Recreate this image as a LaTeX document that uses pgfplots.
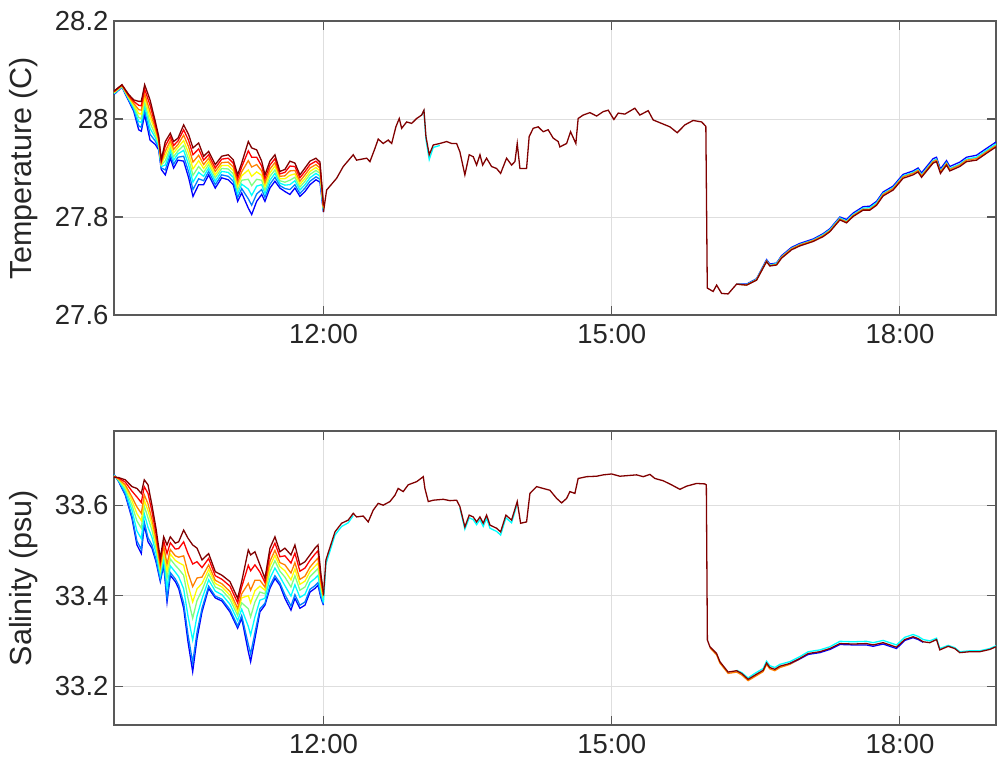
\documentclass[border=0pt]{standalone}
\usepackage{fontspec}
\setmainfont{Liberation Sans}
\usepackage{pgfplots}
\pgfplotsset{compat=1.18}
\usepackage{pgfplotstable}

% jet(8) colours
\definecolor{j1}{rgb}{0,0,1}
\definecolor{j2}{rgb}{0,0.5,1}
\definecolor{j3}{rgb}{0,1,1}
\definecolor{j4}{rgb}{0.5,1,0.5}
\definecolor{j5}{rgb}{1,1,0}
\definecolor{j6}{rgb}{1,0.5,0}
\definecolor{j7}{rgb}{1,0,0}
\definecolor{j8}{rgb}{0.5,0,0}
\definecolor{txt}{rgb}{0.15,0.15,0.15}

% temperature, 8 sensors, before 12:00
\pgfplotstableread{
t a b c d e f g h
9.820 28.050 28.051 28.052 28.053 28.054 28.055 28.056 28.057
9.903 28.065 28.066 28.066 28.067 28.068 28.069 28.069 28.070
9.973 28.037 28.039 28.041 28.043 28.044 28.046 28.048 28.050
10.025 28.016 28.019 28.023 28.026 28.029 28.032 28.036 28.039
10.077 27.978 27.986 27.995 28.003 28.011 28.019 28.028 28.036
10.104 27.975 27.983 27.993 28.001 28.010 28.018 28.027 28.036
10.139 28.009 28.018 28.027 28.035 28.044 28.052 28.061 28.070
10.195 27.957 27.969 27.981 27.992 28.004 28.015 28.028 28.039
10.250 27.948 27.955 27.962 27.968 27.975 27.981 27.988 27.995
10.285 27.937 27.941 27.945 27.949 27.953 27.957 27.961 27.965
10.312 27.897 27.900 27.903 27.906 27.908 27.911 27.914 27.917
10.354 27.886 27.896 27.906 27.915 27.925 27.934 27.945 27.954
10.406 27.920 27.927 27.935 27.942 27.949 27.956 27.964 27.971
10.441 27.900 27.908 27.916 27.923 27.931 27.938 27.946 27.954
10.486 27.916 27.922 27.929 27.935 27.942 27.948 27.955 27.961
10.545 27.914 27.924 27.936 27.946 27.956 27.967 27.978 27.988
10.597 27.880 27.892 27.906 27.918 27.930 27.943 27.956 27.968
10.642 27.842 27.856 27.871 27.885 27.898 27.912 27.927 27.941
10.701 27.866 27.878 27.891 27.903 27.915 27.926 27.939 27.951
10.753 27.866 27.874 27.883 27.891 27.899 27.907 27.916 27.924
10.805 27.886 27.893 27.900 27.907 27.913 27.920 27.927 27.934
10.874 27.859 27.866 27.873 27.880 27.886 27.893 27.900 27.907
10.941 27.880 27.886 27.893 27.899 27.905 27.911 27.918 27.924
11.009 27.876 27.883 27.891 27.898 27.905 27.912 27.920 27.927
11.061 27.866 27.873 27.881 27.888 27.895 27.902 27.910 27.917
11.107 27.832 27.840 27.848 27.855 27.863 27.870 27.878 27.886
11.149 27.849 27.858 27.867 27.875 27.884 27.892 27.902 27.910
11.218 27.818 27.837 27.857 27.877 27.896 27.915 27.935 27.954
11.253 27.805 27.824 27.844 27.864 27.883 27.902 27.922 27.941
11.305 27.832 27.847 27.863 27.877 27.892 27.907 27.922 27.937
11.357 27.846 27.856 27.866 27.875 27.885 27.894 27.904 27.914
11.391 27.832 27.840 27.848 27.855 27.863 27.870 27.878 27.886
11.443 27.859 27.867 27.875 27.883 27.890 27.898 27.906 27.914
11.495 27.873 27.881 27.889 27.896 27.904 27.911 27.919 27.927
11.547 27.859 27.864 27.869 27.874 27.878 27.883 27.888 27.893
11.599 27.852 27.858 27.865 27.871 27.878 27.884 27.891 27.897
11.651 27.846 27.856 27.866 27.875 27.885 27.894 27.904 27.914
11.703 27.859 27.866 27.874 27.881 27.888 27.895 27.903 27.910
11.755 27.842 27.848 27.855 27.861 27.867 27.873 27.880 27.886
11.808 27.852 27.859 27.866 27.873 27.879 27.886 27.893 27.900
11.860 27.866 27.873 27.880 27.887 27.893 27.900 27.907 27.914
11.922 27.876 27.882 27.889 27.895 27.901 27.907 27.914 27.920
11.964 27.871 27.877 27.883 27.889 27.894 27.900 27.906 27.912
12.000 27.810 27.812 27.814 27.816 27.818 27.820 27.822 27.824
}\tempearly

% temperature after 12:00 (all sensors nearly equal)
\pgfplotstableread{
t v
12.000 27.810
12.033 27.855
12.137 27.879
12.206 27.903
12.310 27.927
12.345 27.916
12.450 27.920
12.484 27.913
12.536 27.940
12.570 27.959
12.622 27.950
12.674 27.957
12.710 27.950
12.754 27.984
12.789 28.001
12.814 27.981
12.866 27.994
12.918 27.991
12.970 28.001
13.022 28.008
13.046 28.018
13.067 27.964
13.101 27.927
13.143 27.947
13.212 27.950
13.282 27.954
13.334 27.950
13.386 27.950
13.420 27.933
13.472 27.886
13.517 27.927
13.559 27.923
13.594 27.906
13.629 27.927
13.657 27.906
13.698 27.920
13.750 27.903
13.802 27.899
13.844 27.889
13.906 27.920
13.958 27.906
13.993 27.913
14.017 27.950
14.045 27.899
14.114 27.899
14.141 27.964
14.183 27.981
14.235 27.984
14.287 27.974
14.339 27.978
14.391 27.961
14.443 27.954
14.461 27.943
14.531 27.950
14.572 27.974
14.627 27.950
14.651 28.001
14.703 28.008
14.773 28.013
14.843 28.006
14.912 28.015
14.964 28.018
15.023 27.999
15.068 28.012
15.137 28.010
15.241 28.022
15.293 28.008
15.380 28.017
15.432 27.998
15.519 27.991
15.606 27.984
15.682 27.972
15.762 27.988
15.848 27.997
15.936 27.994
15.980 27.985
15.995 27.655
16.056 27.648
16.092 27.661
16.144 27.644
16.212 27.643
16.300 27.663
16.404 27.661
16.508 27.671
16.612 27.709
16.646 27.700
16.716 27.702
16.768 27.716
16.872 27.733
16.958 27.741
17.097 27.750
17.201 27.760
17.271 27.770
17.375 27.794
17.444 27.788
17.513 27.801
17.617 27.814
17.687 27.814
17.757 27.824
17.825 27.843
17.929 27.855
18.033 27.879
18.137 27.886
18.189 27.892
18.225 27.881
18.345 27.910
18.381 27.913
18.422 27.889
18.485 27.906
18.519 27.894
18.623 27.903
18.693 27.913
18.797 27.916
18.901 27.930
19.000 27.943
}\template

% late-afternoon spread of the other sensors: blue, cyan, orange
\pgfplotstableread{
t b c o
16.300 27.663 27.663 27.663
16.404 27.663 27.662 27.661
16.508 27.674 27.673 27.672
16.612 27.713 27.711 27.710
16.646 27.704 27.702 27.701
16.716 27.706 27.705 27.703
16.768 27.721 27.719 27.718
16.872 27.738 27.736 27.735
16.958 27.746 27.744 27.743
17.097 27.755 27.753 27.752
17.201 27.766 27.764 27.762
17.271 27.776 27.774 27.772
17.375 27.800 27.798 27.796
17.444 27.795 27.792 27.790
17.513 27.808 27.805 27.803
17.617 27.821 27.818 27.816
17.687 27.822 27.819 27.816
17.757 27.832 27.829 27.826
17.825 27.851 27.848 27.846
17.929 27.863 27.860 27.858
18.033 27.887 27.884 27.882
18.137 27.894 27.891 27.889
18.189 27.900 27.897 27.895
18.225 27.890 27.886 27.884
18.345 27.919 27.915 27.913
18.381 27.922 27.918 27.916
18.422 27.898 27.894 27.892
18.485 27.915 27.911 27.909
18.519 27.903 27.899 27.897
18.623 27.912 27.908 27.906
18.693 27.922 27.918 27.916
18.797 27.926 27.922 27.919
18.901 27.940 27.936 27.933
19.000 27.953 27.949 27.946
}\tempspread

\pgfplotstableread{
t c
13.022 28.008
13.046 28.016
13.067 27.958
13.101 27.917
13.143 27.942
13.212 27.946
}\tempcyan

% salinity, 8 sensors, before 12:00
\pgfplotstableread{
t a b c d e f g h
9.820 33.668 33.668 33.666 33.665 33.665 33.664 33.663 33.662
9.869 33.652 33.653 33.654 33.656 33.657 33.658 33.660 33.661
9.938 33.622 33.624 33.631 33.636 33.641 33.645 33.651 33.656
10.007 33.571 33.576 33.589 33.600 33.610 33.618 33.631 33.641
10.059 33.512 33.521 33.543 33.565 33.581 33.596 33.618 33.637
10.104 33.493 33.502 33.526 33.549 33.566 33.582 33.606 33.626
10.135 33.556 33.563 33.581 33.598 33.611 33.623 33.641 33.656
10.174 33.519 33.528 33.551 33.572 33.588 33.603 33.626 33.645
10.215 33.505 33.512 33.529 33.545 33.557 33.569 33.586 33.600
10.257 33.475 33.480 33.494 33.506 33.516 33.525 33.538 33.549
10.302 33.431 33.435 33.444 33.452 33.459 33.465 33.474 33.482
10.337 33.468 33.472 33.484 33.494 33.502 33.510 33.521 33.530
10.372 33.386 33.395 33.418 33.439 33.455 33.470 33.493 33.512
10.406 33.445 33.451 33.466 33.481 33.492 33.502 33.517 33.530
10.458 33.431 33.437 33.452 33.467 33.478 33.488 33.503 33.516
10.493 33.416 33.423 33.442 33.459 33.473 33.485 33.504 33.519
10.545 33.372 33.384 33.415 33.445 33.467 33.488 33.519 33.545
10.590 33.298 33.314 33.355 33.394 33.424 33.451 33.493 33.527
10.639 33.232 33.252 33.302 33.350 33.386 33.420 33.470 33.512
10.684 33.305 33.319 33.355 33.389 33.415 33.439 33.475 33.505
10.736 33.364 33.372 33.393 33.412 33.427 33.441 33.462 33.479
10.805 33.416 33.421 33.435 33.448 33.458 33.468 33.482 33.493
10.874 33.395 33.399 33.410 33.419 33.427 33.434 33.444 33.453
10.944 33.388 33.392 33.402 33.412 33.419 33.426 33.436 33.445
11.027 33.364 33.369 33.381 33.392 33.401 33.409 33.421 33.431
11.107 33.328 33.333 33.345 33.356 33.364 33.372 33.384 33.394
11.149 33.350 33.356 33.370 33.384 33.395 33.404 33.419 33.431
11.218 33.276 33.292 33.332 33.371 33.400 33.427 33.467 33.501
11.242 33.254 33.271 33.313 33.353 33.384 33.412 33.455 33.490
11.287 33.305 33.318 33.353 33.386 33.411 33.434 33.468 33.497
11.339 33.364 33.371 33.390 33.408 33.421 33.434 33.452 33.468
11.391 33.379 33.383 33.394 33.404 33.412 33.419 33.429 33.438
11.443 33.416 33.422 33.438 33.453 33.465 33.476 33.492 33.505
11.495 33.438 33.444 33.461 33.477 33.489 33.500 33.516 33.530
11.547 33.423 33.428 33.442 33.454 33.464 33.473 33.486 33.497
11.599 33.394 33.402 33.422 33.441 33.455 33.468 33.488 33.505
11.662 33.368 33.377 33.399 33.419 33.435 33.450 33.472 33.490
11.703 33.394 33.402 33.424 33.444 33.459 33.473 33.494 33.512
11.755 33.372 33.379 33.396 33.412 33.425 33.436 33.454 33.468
11.808 33.379 33.386 33.403 33.419 33.432 33.443 33.461 33.475
11.860 33.408 33.414 33.429 33.442 33.453 33.463 33.478 33.490
11.912 33.416 33.422 33.438 33.453 33.465 33.476 33.492 33.505
11.943 33.423 33.429 33.445 33.460 33.472 33.483 33.499 33.512
11.975 33.394 33.398 33.407 33.415 33.422 33.428 33.437 33.445
12.000 33.379 33.381 33.386 33.391 33.395 33.398 33.404 33.408
}\salearly

% salinity after 12:00
\pgfplotstableread{
t v
12.000 33.400
12.026 33.479
12.120 33.541
12.189 33.560
12.258 33.567
12.310 33.582
12.345 33.574
12.414 33.576
12.466 33.563
12.518 33.589
12.570 33.604
12.622 33.600
12.692 33.608
12.744 33.622
12.778 33.637
12.830 33.630
12.882 33.645
12.970 33.652
13.039 33.663
13.056 33.637
13.091 33.608
13.143 33.611
13.247 33.613
13.316 33.610
13.386 33.611
13.420 33.597
13.472 33.552
13.517 33.578
13.559 33.574
13.594 33.563
13.629 33.574
13.663 33.560
13.698 33.578
13.733 33.556
13.802 33.549
13.844 33.541
13.899 33.578
13.958 33.567
14.017 33.608
14.052 33.560
14.114 33.563
14.149 33.626
14.219 33.641
14.287 33.637
14.357 33.633
14.427 33.615
14.479 33.605
14.531 33.615
14.565 33.630
14.617 33.626
14.651 33.659
14.739 33.663
14.843 33.664
14.912 33.667
14.999 33.669
15.085 33.664
15.259 33.667
15.328 33.663
15.398 33.668
15.450 33.659
15.536 33.654
15.623 33.645
15.710 33.635
15.779 33.642
15.883 33.648
15.970 33.647
15.985 33.645
15.996 33.302
16.022 33.287
16.092 33.272
16.126 33.254
16.212 33.231
16.300 33.234
16.352 33.228
16.420 33.215
16.490 33.224
16.577 33.235
16.612 33.251
16.646 33.241
16.698 33.237
16.750 33.244
16.854 33.250
16.958 33.261
17.045 33.272
17.167 33.276
17.271 33.283
17.375 33.294
17.513 33.293
17.652 33.294
17.721 33.291
17.825 33.296
17.964 33.286
18.051 33.303
18.137 33.309
18.189 33.305
18.241 33.298
18.311 33.296
18.381 33.303
18.415 33.280
18.502 33.288
18.571 33.283
18.623 33.274
18.727 33.276
18.831 33.276
18.935 33.281
19.000 33.287
}\salate

\pgfplotstableread{
t c
12.000 33.385
12.026 33.470
12.120 33.534
12.189 33.553
12.258 33.561
12.310 33.577
}\salcyanA

\pgfplotstableread{
t c
13.420 33.594
13.472 33.547
13.517 33.572
13.559 33.568
13.594 33.557
13.629 33.568
13.663 33.553
13.698 33.571
13.733 33.549
13.802 33.542
13.844 33.534
13.899 33.572
13.958 33.561
14.017 33.603
}\salcyanB

\pgfplotstableread{
t c
16.300 33.235
16.352 33.230
16.420 33.218
16.490 33.228
16.577 33.239
16.612 33.255
16.646 33.245
16.698 33.241
16.750 33.248
16.854 33.254
16.958 33.265
17.045 33.276
17.167 33.280
17.271 33.287
17.375 33.299
17.513 33.298
17.652 33.299
17.721 33.296
17.825 33.301
17.964 33.291
18.051 33.308
18.137 33.314
18.189 33.310
18.241 33.303
18.311 33.300
18.381 33.306
18.415 33.283
18.502 33.290
18.571 33.285
18.623 33.276
18.727 33.278
18.831 33.278
18.935 33.283
19.000 33.289
}\salcyanC

\pgfplotstableread{
t o
16.022 33.285
16.092 33.269
16.126 33.251
16.212 33.228
16.300 33.231
16.352 33.225
16.420 33.212
16.490 33.221
16.577 33.232
16.612 33.248
16.646 33.238
16.698 33.234
16.750 33.241
16.854 33.248
16.958 33.260
}\salorange

\pgfplotstableread{
t b
16.854 33.250
16.958 33.260
17.045 33.270
17.167 33.274
17.271 33.281
17.375 33.292
17.513 33.291
17.652 33.291
17.721 33.288
17.825 33.293
17.964 33.283
18.051 33.301
18.137 33.307
18.189 33.303
18.241 33.297
}\salblue

\pgfplotsset{
  matlab/.style={
    scale only axis,
    width=882pt, height=294pt,
    xmin=9.82, xmax=19.0,
    xtick={12,15,18},
    xticklabels={12:00,15:00,18:00},
    tick align=inside,
    major tick length=9pt,
    grid=major,
    grid style={color=black!13, line width=0.9pt},
    axis line style={color=black!65, line width=1.1pt},
    every tick/.style={color=black!65, line width=1.1pt},
    /pgf/number format/assume math mode=true,
    ticklabel style={font=\fontsize{27.5}{31}\selectfont, text=txt},
    xticklabel style={yshift=-6pt},
    yticklabel style={xshift=-2pt},
    every axis y label/.style={at={(axis description cs:-0.102,0.5)}, rotate=90,
      anchor=center, font=\fontsize{30.5}{34}\selectfont, text=txt},
  },
  ln/.style={line width=1.3pt},
}

\begin{document}
\begin{tikzpicture}
\path[use as bounding box] (0,0) rectangle (997pt,767pt);

\begin{axis}[matlab,
  at={(114pt,452pt)}, anchor=south west,
  ymin=27.6, ymax=28.2,
  ytick={27.6,27.8,28,28.2},
  yticklabels={27.6,27.8,28,28.2},
  ylabel={Temperature (C)},
]
\addplot[ln, j1] table[x=t, y=a] {\tempearly};
\addplot[ln, j2] table[x=t, y=b] {\tempearly};
\addplot[ln, j3] table[x=t, y=c] {\tempearly};
\addplot[ln, j4] table[x=t, y=d] {\tempearly};
\addplot[ln, j5] table[x=t, y=e] {\tempearly};
\addplot[ln, j6] table[x=t, y=f] {\tempearly};
\addplot[ln, j7] table[x=t, y=g] {\tempearly};
\addplot[ln, j8] table[x=t, y=h] {\tempearly};
\addplot[ln, j1] table[x=t, y=b] {\tempspread};
\addplot[ln, j3] table[x=t, y=c] {\tempspread};
\addplot[ln, j6] table[x=t, y=o] {\tempspread};
\addplot[ln, j3] table[x=t, y=c] {\tempcyan};
\addplot[ln, j8] table[x=t, y=v] {\template};
\end{axis}

\begin{axis}[matlab,
  at={(114pt,42pt)}, anchor=south west,
  ymin=33.114, ymax=33.764,
  ytick={33.2,33.4,33.6},
  yticklabels={33.2,33.4,33.6},
  ylabel={Salinity (psu)},
]
\addplot[ln, j1] table[x=t, y=a] {\salearly};
\addplot[ln, j2] table[x=t, y=b] {\salearly};
\addplot[ln, j3] table[x=t, y=c] {\salearly};
\addplot[ln, j4] table[x=t, y=d] {\salearly};
\addplot[ln, j5] table[x=t, y=e] {\salearly};
\addplot[ln, j6] table[x=t, y=f] {\salearly};
\addplot[ln, j7] table[x=t, y=g] {\salearly};
\addplot[ln, j8] table[x=t, y=h] {\salearly};
\addplot[ln, j3] table[x=t, y=c] {\salcyanA};
\addplot[ln, j3] table[x=t, y=c] {\salcyanB};
\addplot[ln, j3] table[x=t, y=c] {\salcyanC};
\addplot[ln, j6] table[x=t, y=o] {\salorange};
\addplot[ln, j1] table[x=t, y=b] {\salblue};
\addplot[ln, j8] table[x=t, y=v] {\salate};
\end{axis}
\end{tikzpicture}
\end{document}
